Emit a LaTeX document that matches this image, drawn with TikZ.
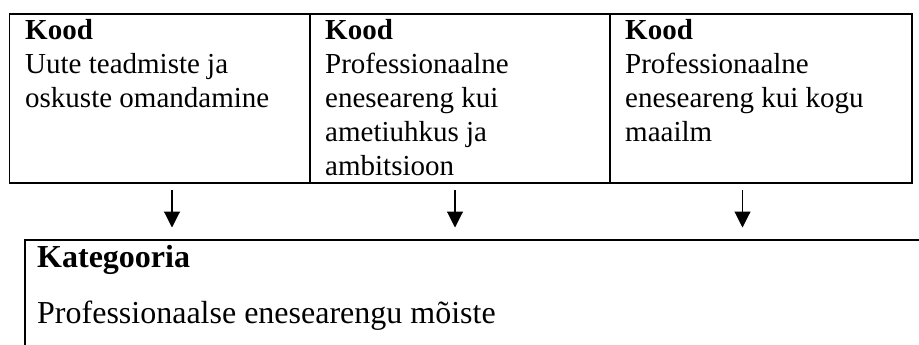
\documentclass[tikz,border=0pt]{standalone}
\usepackage{fontspec}
\setmainfont{Liberation Serif}
\usetikzlibrary{arrows.meta}
\begin{document}
\begin{tikzpicture}[x=1pt,y=-1pt,
  cell/.style={draw,line width=1.9pt,inner sep=0pt,anchor=north west,minimum height=169.3pt},
  small/.style={anchor=base west,inner sep=0pt,font=\fontsize{29}{33.75}\selectfont},
  big/.style={anchor=base west,inner sep=0pt,font=\fontsize{32}{38}\selectfont},
  arr/.style={line width=1.1pt,-{Triangle[length=16pt,width=16pt]}},
  frame/.style={line width=1.9pt}]
\useasboundingbox (0,0) rectangle (919,345);
% top cells
\node[cell,minimum width=300.5pt] (c1) at (8.5,12.7) {};
\node[cell,minimum width=300pt] (c2) at (309,12.7) {};
\node[cell,minimum width=302pt] (c3) at (609,12.7) {};
% texts column 1
\node[small] (k1) at (25,40) {\bfseries Kood};
\node[small] (t1a) at (25,73.75) {Uute teadmiste ja};
\node[small] (t1b) at (25,107.5) {oskuste omandamine};
% column 2
\node[small] (k2) at (325,40) {\bfseries Kood};
\node[small] (t2a) at (325,73.75) {Professionaalne};
\node[small] (t2b) at (325,107.5) {eneseareng kui};
\node[small] (t2c) at (325,141.25) {ametiuhkus ja};
\node[small] (t2d) at (325,175) {ambitsioon};
% column 3
\node[small] (k3) at (625,40) {\bfseries Kood};
\node[small] (t3a) at (625,73.75) {Professionaalne};
\node[small] (t3b) at (625,107.5) {eneseareng kui kogu};
\node[small] (t3c) at (625,141.25) {maailm};
% arrows
\coordinate (a1s) at (172,190); \coordinate (a1e) at (172,227.5);
\coordinate (a2s) at (455,190); \coordinate (a2e) at (455,227.5);
\coordinate (a3s) at (742.5,190); \coordinate (a3e) at (742.5,227.5);
\draw[arr] (a1s) -- (a1e);
\draw[arr] (a2s) -- (a2e);
\draw[arr] (a3s) -- (a3e);
% bottom box (cut off)
\coordinate (bl) at (25,345);
\coordinate (btl) at (25,240);
\coordinate (btr) at (919,240);
\draw[frame] (bl) -- (btl) -- (btr);
\node[big] (kat) at (37,267) {\bfseries Kategooria};
\node[big] (moi) at (37,323) {Professionaalse enesearengu mõiste};
\end{tikzpicture}
\end{document}
